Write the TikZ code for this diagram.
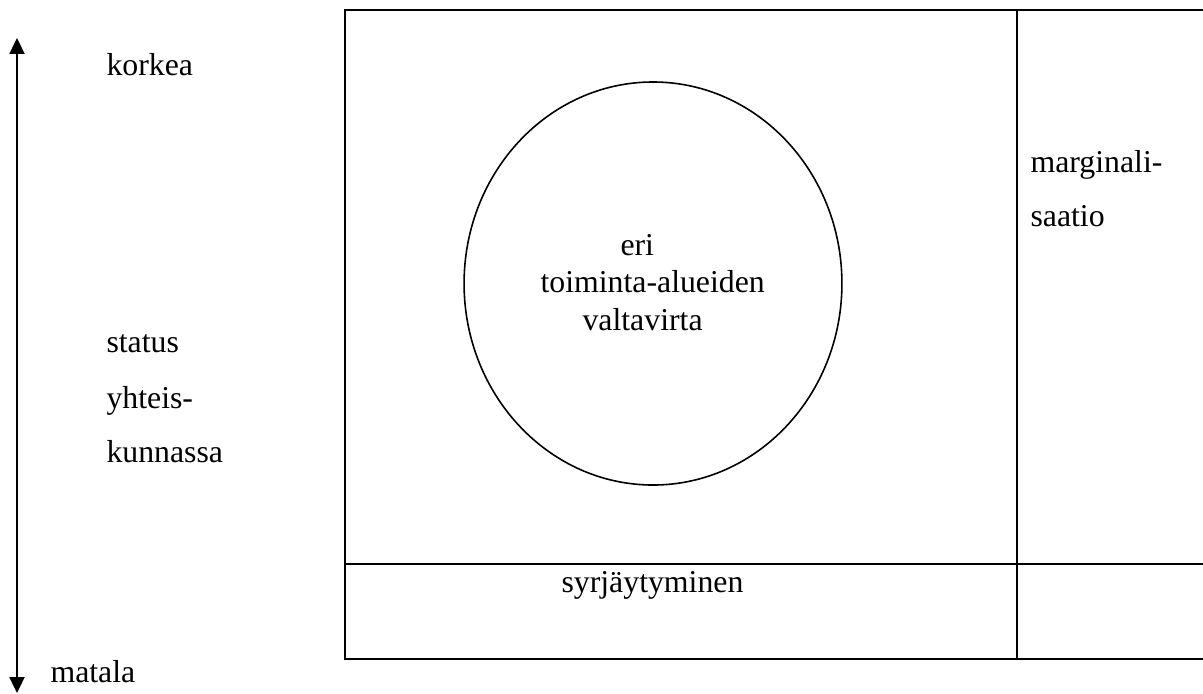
\documentclass[tikz,border=0pt]{standalone}
\usepackage{fontspec}
\setmainfont{Liberation Serif}
\usetikzlibrary{arrows.meta,shapes.geometric}
\begin{document}
\begin{tikzpicture}[x=0.3774pt,y=-0.3774pt,
  lbl/.style={anchor=base west,inner sep=0pt,font=\fontsize{12}{14}\selectfont},
  frame/.style={line width=0.75pt,line cap=rect},
  axis/.style={line width=0.6pt,{Triangle[width=5.7pt,length=6pt]}-{Triangle[width=5.7pt,length=6pt]}}]
\useasboundingbox (0,0) rectangle (1203,693);
% axis arrow
\coordinate (arrtop) at (17,38);
\coordinate (arrbot) at (17,693);
\draw[axis] (arrtop) -- (arrbot);
\node[lbl] (korkea) at (106,75) {korkea};
\node[lbl] (status) at (106,352) {status};
\node[lbl] (yhteis) at (106,408) {yhteis-};
\node[lbl] (kunnassa) at (106,462) {kunnassa};
\node[lbl] (matala) at (50,682) {matala};
% frame
\coordinate (tl) at (345,10);
\coordinate (tr) at (1203,10);
\coordinate (bl) at (345,659);
\coordinate (br) at (1203,659);
\coordinate (ml) at (345,564);
\coordinate (mr) at (1203,564);
\coordinate (vt) at (1017,10);
\coordinate (vb) at (1017,659);
\draw[frame] (tr) -- (tl) -- (bl) -- (br);
\draw[frame] (ml) -- (mr);
\draw[frame] (vt) -- (vb);
% ellipse
\node[draw,ellipse,line width=0.6pt,inner sep=0pt,minimum width=142.6pt,minimum height=152.1pt] (oval) at (653,283.5) {};
\node[lbl] (eri) at (620,255) {eri};
\node[lbl] (toim) at (540,292) {toiminta-alueiden};
\node[lbl] (valta) at (582,330) {valtavirta};
\node[lbl] (syr) at (561,592) {syrjäytyminen};
\node[lbl] (marg) at (1030,172) {marginali-};
\node[lbl] (saat) at (1030,226) {saatio};
\end{tikzpicture}
\end{document}
